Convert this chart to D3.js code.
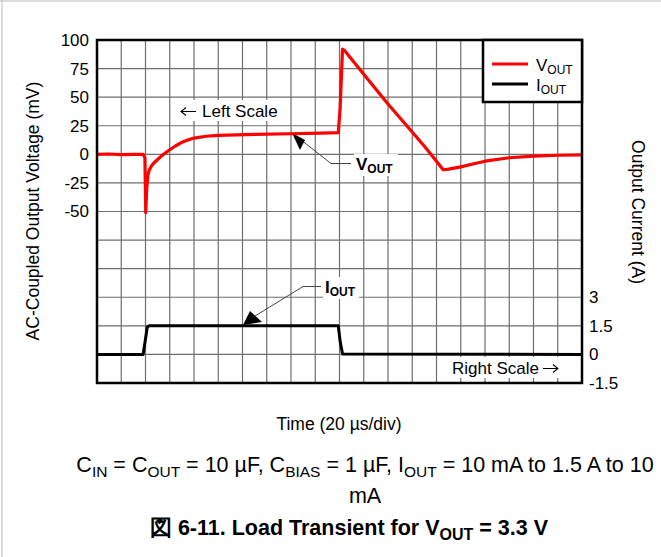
<!DOCTYPE html>
<html>
<head>
<meta charset="utf-8">
<script src="https://cdn.jsdelivr.net/npm/d3@7"></script>
<style>
  body { margin: 0; background: #fff; }
  svg { font-family: "Liberation Sans", Arial, sans-serif; }
</style>
</head>
<body>
<div id="chart"></div>
<script>
// time in µs, VOUT in mV (AC-coupled), IOUT in A
const vTime = [0, 10, 20, 30, 38, 39.5, 40.2, 41, 42, 43, 45, 47, 50, 53, 56, 60, 65, 70, 75, 80, 90, 100, 115, 130, 160, 185, 199, 200.5, 202.5, 204, 220, 240, 258, 270, 280, 285.5, 290, 300, 310, 320, 340, 360, 380, 400];
const vOut  = [0, 0.3, -0.3, 0, 0, -3, -51, -30, -18, -14, -10, -7.5, -4.5, -1.5, 1, 4, 7.5, 10.5, 12.5, 14.2, 15.8, 16.6, 17, 17.5, 18, 18.5, 19, 40, 92, 91, 70, 44, 22, 7, -6, -13.5, -13, -11, -8.5, -6, -3, -1.5, -0.8, -0.5];
const iTime = [0, 38, 39.5, 41.5, 43, 199, 200.5, 202.5, 400];
const iOut  = [0, 0, 0.6, 1.45, 1.5, 1.5, 0.7, 0.02, 0];
const leftTicks = [100, 75, 50, 25, 0, -25, -50];
const rightTicks = [3, 1.5, 0, -1.5];

const W = 661, H = 557;
const svg = d3.select("#chart").append("svg").attr("width", W).attr("height", H);

const x = d3.scaleLinear().domain([0, 400]).range([97, 582]);
const yL = d3.scaleLinear().domain([-200, 100]).range([383, 40]);
const yR = d3.scaleLinear().domain([-1.5, 16.5]).range([383, 40]);

// page frame lines
svg.append("line").attr("x1", 2).attr("x2", 2).attr("y1", 0).attr("y2", H).attr("stroke", "#bbb");
svg.append("line").attr("x1", 0).attr("x2", W).attr("y1", 1).attr("y2", 1).attr("stroke", "#bbb");

// grid
const g = svg.append("g");
g.selectAll(".vg").data(d3.range(0, 401, 20)).enter().append("line")
  .attr("x1", d => x(d)).attr("x2", d => x(d)).attr("y1", 40).attr("y2", 383)
  .attr("stroke", "#6e6e6e").attr("stroke-width", 1.2);
g.selectAll(".hg").data(d3.range(-200, 101, 25)).enter().append("line")
  .attr("y1", d => yL(d)).attr("y2", d => yL(d)).attr("x1", 97).attr("x2", 582)
  .attr("stroke", "#6e6e6e").attr("stroke-width", 1.2);

// text with subscript pieces: parts = [[main, sub], ...]
function subText(sel, parts, subSize, shift) {
  let down = false;
  parts.forEach(([m, s]) => {
    const t = sel.append("tspan").text(m);
    if (down) { t.attr("dy", -shift); down = false; }
    if (s) { sel.append("tspan").attr("font-size", subSize).attr("dy", shift).text(s); down = true; }
  });
  return sel;
}

// thin scale arrows
function arrow(x1, x2, y) {
  const dir = Math.sign(x2 - x1);
  svg.append("path")
    .attr("d", `M${x1},${y} L${x2},${y} M${x2 - dir * 5},${y - 4} L${x2},${y} L${x2 - dir * 5},${y + 4}`)
    .attr("fill", "none").attr("stroke", "#000").attr("stroke-width", 1.1);
}

svg.append("rect").attr("x", 176).attr("y", 100).attr("width", 110).attr("height", 21).attr("fill", "#fff");
arrow(196, 181, 111.5);
svg.append("text").attr("x", 202).attr("y", 117).attr("font-size", 17).text("Left Scale");

const rsBg = svg.append("rect").attr("x", 447).attr("y", 357).attr("height", 21).attr("fill", "#fff");
const rs = svg.append("text").attr("x", 452).attr("y", 374).attr("font-size", 17).text("Right Scale");
const rsEnd = 452 + rs.node().getComputedTextLength();
rsBg.attr("width", rsEnd + 24 - 447);
arrow(rsEnd + 4, rsEnd + 19, 368.5);

svg.append("rect").attr("x", 354).attr("y", 154).attr("width", 44).attr("height", 22).attr("fill", "#fff");
subText(svg.append("text").attr("x", 356).attr("y", 170).attr("font-size", 17).attr("font-weight", "bold"), [["V", "OUT"]], 12, 3);

svg.append("rect").attr("x", 323).attr("y", 277).attr("width", 36).attr("height", 22).attr("fill", "#fff");
subText(svg.append("text").attr("x", 325).attr("y", 293).attr("font-size", 17).attr("font-weight", "bold"), [["I", "OUT"]], 12, 3);

// leader lines and arrow heads
svg.append("path").attr("d", "M351,163.5 L331,163.5 L296,136").attr("fill", "none").attr("stroke", "#444").attr("stroke-width", 1);
svg.append("path").attr("d", "M292,133 L305,140 L300,150 Z").attr("fill", "#000");
svg.append("path").attr("d", "M321,286.5 L303,286.5 L247,321").attr("fill", "none").attr("stroke", "#444").attr("stroke-width", 1);
svg.append("path").attr("d", "M243,325 L250,311 L262,322 Z").attr("fill", "#000");

// traces
const vLine = d3.line().x((d, i) => x(vTime[i])).y(d => yL(d));
svg.append("path").datum(vOut).attr("d", vLine)
  .attr("fill", "none").attr("stroke", "#ff0000").attr("stroke-width", 3.2).attr("stroke-linejoin", "round");
const iLine = d3.line().x((d, i) => x(iTime[i])).y(d => yR(d));
svg.append("path").datum(iOut).attr("d", iLine)
  .attr("fill", "none").attr("stroke", "#000").attr("stroke-width", 3).attr("stroke-linejoin", "round");

// frame
svg.append("rect").attr("x", 97).attr("y", 40).attr("width", 485).attr("height", 343)
  .attr("fill", "none").attr("stroke", "#000").attr("stroke-width", 2.5);

// legend
svg.append("rect").attr("x", 483).attr("y", 40).attr("width", 99).attr("height", 62)
  .attr("fill", "#fff").attr("stroke", "#000").attr("stroke-width", 2.5);
svg.append("line").attr("x1", 492).attr("x2", 528).attr("y1", 64).attr("y2", 64).attr("stroke", "#ff0000").attr("stroke-width", 3);
svg.append("line").attr("x1", 492).attr("x2", 528).attr("y1", 84).attr("y2", 84).attr("stroke", "#000").attr("stroke-width", 3);
subText(svg.append("text").attr("x", 536).attr("y", 71).attr("font-size", 17), [["V", "OUT"]], 12, 3);
subText(svg.append("text").attr("x", 536).attr("y", 91).attr("font-size", 17), [["I", "OUT"]], 12, 3);

// axis tick labels
svg.selectAll(".lt").data(leftTicks).enter().append("text")
  .attr("x", 89).attr("y", d => yL(d)).attr("dy", "0.35em").attr("text-anchor", "end")
  .attr("font-size", 17).text(d => d);
svg.selectAll(".rt").data(rightTicks).enter().append("text")
  .attr("x", 589).attr("y", d => yR(d)).attr("dy", "0.35em").attr("text-anchor", "start")
  .attr("font-size", 17).text(d => d);

// axis titles
svg.append("text").attr("transform", "translate(39,211) rotate(-90)").attr("text-anchor", "middle")
  .attr("font-size", 17.5).text("AC-Coupled Output Voltage (mV)");
svg.append("text").attr("transform", "translate(632,212) rotate(90)").attr("text-anchor", "middle")
  .attr("font-size", 17.5).text("Output Current (A)");
svg.append("text").attr("x", 339).attr("y", 430).attr("text-anchor", "middle")
  .attr("font-size", 17.5).text("Time (20 \u00b5s/div)");

// caption
subText(svg.append("text").attr("x", 365).attr("y", 472).attr("text-anchor", "middle").attr("font-size", 21.5),
  [["C", "IN"], [" = C", "OUT"], [" = 10 \u00b5F, C", "BIAS"], [" = 1 \u00b5F, I", "OUT"], [" = 10 mA to 1.5 A to 10", null]], 15.5, 5);
svg.append("text").attr("x", 365).attr("y", 503).attr("text-anchor", "middle").attr("font-size", 21.5).text("mA");

subText(svg.append("text").attr("x", 349).attr("y", 535).attr("text-anchor", "middle").attr("font-size", 21.5).attr("font-weight", "bold"),
  [["\u56f3 6-11. Load Transient for V", "OUT"], [" = 3.3 V", null]], 16, 5);
</script>
</body>
</html>
